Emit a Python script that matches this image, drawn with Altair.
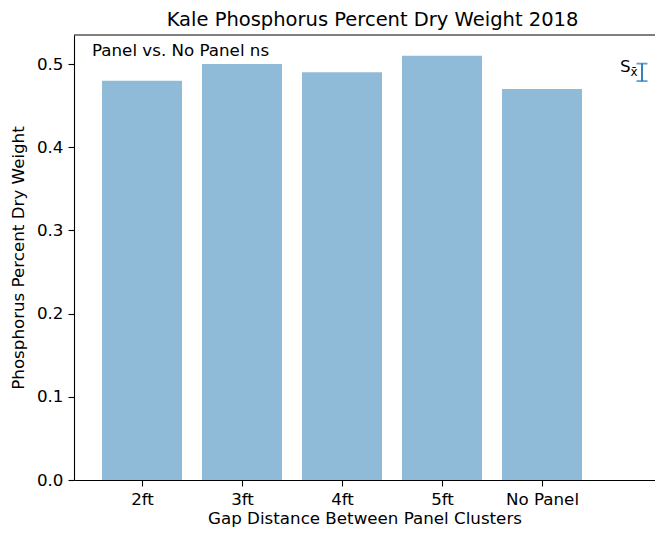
import altair as alt
import pandas as pd

categories = ["2ft", "3ft", "4ft", "5ft", "No Panel"]
values = [0.48, 0.50, 0.49, 0.51, 0.47]
sem_center = [0.49]
sem_half = [0.0105]
y_ticks = [0.0, 0.1, 0.2, 0.3, 0.4, 0.5]

FONT = "DejaVu Sans"
W, H = 581, 445
BLUE = "#1f77b4"
FS = 16.7

df = pd.DataFrame({"cat": categories, "val": values, "pos": list(range(len(categories)))})
err = pd.DataFrame({"pos": [len(categories)] * len(sem_center), "c": sem_center, "h": sem_half})

xscale = alt.Scale(domain=[-0.68, 5.13], nice=False, zero=False)
yscale = alt.Scale(domain=[0, 0.5349], nice=False, zero=False)
label_expr = "[" + ",".join(f"'{c}'" for c in categories) + "][datum.value]"
xaxis = alt.Axis(values=list(range(len(categories))), labelExpr=label_expr,
                 title="Gap Distance Between Panel Clusters", grid=False,
                 labelPadding=5, titlePadding=3)
yaxis = alt.Axis(values=y_ticks, format=".1f", title="Phosphorus Percent Dry Weight",
                 grid=False, labelPadding=5, titlePadding=9)


def X(field):
    return alt.X(field, type="quantitative", scale=xscale, axis=xaxis)


def Y(field):
    return alt.Y(field, type="quantitative", scale=yscale, axis=yaxis)


bars = alt.Chart(df).transform_calculate(
    x="datum.pos - 0.4", x2="datum.pos + 0.4", y="datum.val", y2="0"
).mark_bar(color=BLUE, opacity=0.5).encode(
    x=X("x"), x2="x2:Q", y=Y("y"), y2="y2:Q"
)

err_base = alt.Chart(err).transform_calculate(
    x="datum.pos", y="datum.c - datum.h", y2="datum.c + datum.h"
)
err_rule = err_base.mark_rule(color=BLUE, strokeWidth=1.8).encode(
    x=X("x"), y=Y("y"), y2="y2:Q"
)
cap_lo = err_base.mark_tick(color=BLUE, orient="horizontal", size=11, thickness=1.8).encode(
    x=X("x"), y=Y("y")
)
cap_hi = err_base.mark_tick(color=BLUE, orient="horizontal", size=11, thickness=1.8).encode(
    x=X("x"), y=Y("y2")
)

ann = alt.Chart(pd.DataFrame({"x": [-0.5], "y": [0.51], "t": ["Panel vs. No Panel ns"]})).mark_text(
    align="left", baseline="alphabetic", font=FONT, fontSize=FS, color="black"
).encode(x=X("x"), y=Y("y"), text="t:N")

s_txt = alt.Chart(pd.DataFrame({"x": [4.78], "y": [0.49], "t": ["S"]})).mark_text(
    align="left", baseline="alphabetic", font=FONT, fontSize=FS, color="black"
).encode(x=X("x"), y=Y("y"), text="t:N")

sub_txt = alt.Chart(pd.DataFrame({"x": [4.885], "y": [0.486], "t": ["x\u0304"]})).mark_text(
    align="left", baseline="alphabetic", font=FONT, fontSize=12, color="black"
).encode(x=X("x"), y=Y("y"), text="t:N")

top_spine = alt.Chart(pd.DataFrame({"a": [0]})).mark_rule(color="black", strokeWidth=1.1).encode(
    x=alt.value(0), x2=alt.value(W), y=alt.value(0)
)

chart = alt.layer(bars, err_rule, cap_lo, cap_hi, ann, s_txt, sub_txt, top_spine).properties(
    width=W, height=H,
    title=alt.TitleParams("Kale Phosphorus Percent Dry Weight 2018", font=FONT, fontSize=19.5,
                          fontWeight="normal", color="black", anchor="middle",
                          offset=4, dx=8),
    autosize=alt.AutoSizeParams(type="none"),
    padding={"left": 66, "top": 27, "right": 0, "bottom": 48},
).configure_view(stroke="transparent").configure_axis(
    domainColor="black", domainWidth=1.1, tickColor="black", tickWidth=1.1, tickSize=6,
    labelFont=FONT, labelFontSize=FS, labelColor="black",
    titleFont=FONT, titleFontSize=FS, titleFontWeight="normal", titleColor="black",
)

chart.save("out.html", embed_options={"renderer": "svg", "actions": False})
